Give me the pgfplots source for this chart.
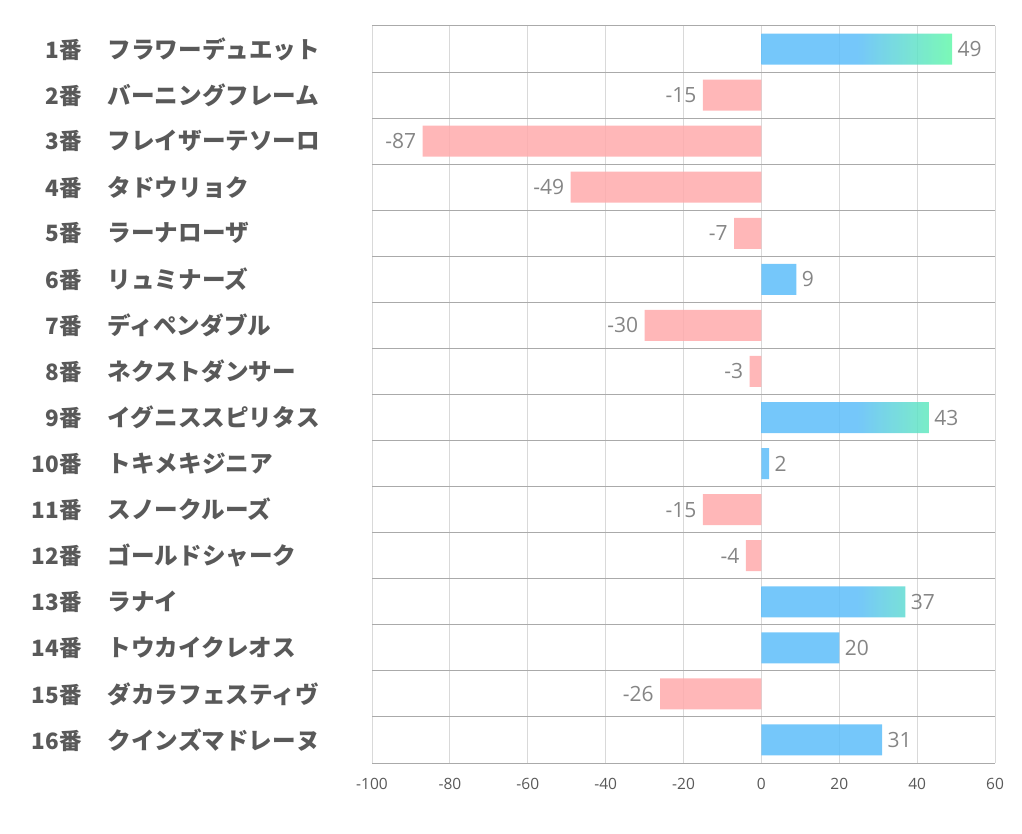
\documentclass[border=0pt]{standalone}
\usepackage{pgfplots}
\pgfplotsset{compat=1.18}
\usepackage{fontspec}
\setmainfont{Noto Sans CJK JP}
\newfontfamily\numfont{Open Sans}
\definecolor{barblue}{RGB}{93,189,249}
\definecolor{bargreen}{RGB}{100,248,170}
\definecolor{barpink}{RGB}{255,170,172}
\definecolor{labelgray}{RGB}{89,89,89}
\definecolor{valgray}{RGB}{112,112,112}
\definecolor{gridlight}{RGB}{217,217,217}
\definecolor{griddark}{RGB}{170,170,170}
\pgfdeclarehorizontalshading{bluegreen}{100bp}{color(0bp)=(barblue); color(50bp)=(barblue); color(75bp)=(bargreen); color(100bp)=(bargreen)}
\newcommand{\lab}[2]{\makebox[60pt][r]{#1番}\hspace{26pt}\makebox[240pt][l]{\fontsize{23.6}{27}\selectfont #2}}
\begin{document}
\begin{tikzpicture}
\path[use as bounding box] (0,0) rectangle (1022pt,834pt);
\begin{axis}[
  at={(372pt,71pt)}, anchor=south west,
  scale only axis, width=623pt, height=737pt,
  xmin=-100, xmax=60, ymin=0.5, ymax=16.5, y dir=reverse,
  /pgf/number format/assume math mode=true,
  axis line style={draw=none},
  major tick length=0pt, minor tick length=0pt,
  xtick={-100,-80,...,60},
  ytick={1,...,16},
  minor ytick={0.5,1.5,...,16.5},
  xmajorgrids, yminorgrids,
  major grid style={draw=gridlight, line width=0.8pt},
  minor grid style={draw=griddark, line width=1pt},
  yticklabels={\lab{1}{フラワーデュエット},\lab{2}{バーニングフレーム},\lab{3}{フレイザーテソーロ},\lab{4}{タドウリョク},\lab{5}{ラーナローザ},\lab{6}{リュミナーズ},\lab{7}{ディペンダブル},\lab{8}{ネクストダンサー},\lab{9}{イグニススピリタス},\lab{10}{トキメキジニア},\lab{11}{スノークルーズ},\lab{12}{ゴールドシャーク},\lab{13}{ラナイ},\lab{14}{トウカイクレオス},\lab{15}{ダカラフェスティヴ},\lab{16}{クインズマドレーヌ}},
  yticklabel style={font=\fontsize{22.5}{27}\selectfont\bfseries, text=labelgray, anchor=east, inner sep=0pt, xshift=-24pt},
  xticklabel style={font=\numfont\fontsize{15.5}{17}\selectfont, text=labelgray, yshift=-12pt},
  xbar, bar shift=0pt, bar width=31pt,
  nodes near coords,
  every node near coord/.append style={font=\numfont\fontsize{21}{25}\selectfont, text=valgray},
]
\addplot[draw=none, fill=barpink, fill opacity=0.85, nodes near coords style={anchor=east, xshift=-3pt}] coordinates {
(-15,2) (-87,3) (-49,4) (-7,5) (-30,7) (-3,8) (-15,11) (-4,12) (-26,15)};
\addplot[draw=none, fill=barblue, fill opacity=0.85, nodes near coords style={anchor=west, xshift=2pt}] coordinates {
(9,6) (2,10) (20,14) (31,16)};
\addplot[draw=none, shading=bluegreen, fill opacity=0.85, nodes near coords style={anchor=west, xshift=2pt}] coordinates {
(49,1) (43,9) (37,13)};
\end{axis}
\end{tikzpicture}
\end{document}
